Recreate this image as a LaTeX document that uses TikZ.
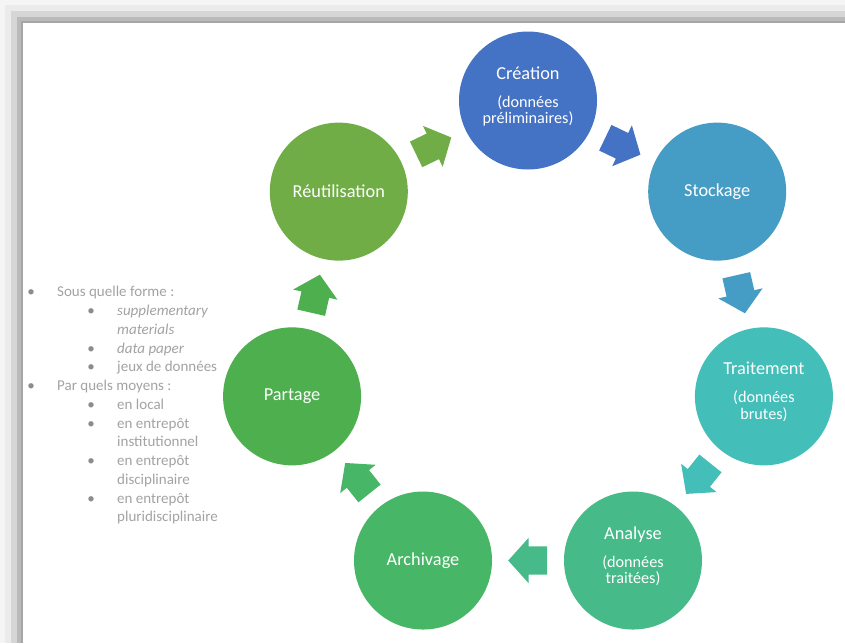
\documentclass[tikz,border=0pt]{standalone}
\usepackage{fontspec}
\setmainfont{Carlito}
\usepackage{xcolor}
\usetikzlibrary{calc, shapes.arrows}

\definecolor{creation}{HTML}{4472C4}
\definecolor{stockage}{HTML}{459CC5}
\definecolor{traitement}{HTML}{43BEB8}
\definecolor{analyse}{HTML}{46BA89}
\definecolor{archivage}{HTML}{48B667}
\definecolor{partage}{HTML}{4DAF4E}
\definecolor{reutil}{HTML}{70AD47}
\definecolor{gristexte}{HTML}{A3A3A3}
\definecolor{grispuce}{HTML}{8C8C8C}

\newcommand{\titre}[1]{{\fontsize{18.3}{16.5}\selectfont #1}}

\begin{document}
\begin{tikzpicture}[
        x = 1pt, y = -1pt, % pixel coordinates, y downwards
        etape/.style = {circle, minimum size=138pt, inner sep=0pt, text=white,
            font=\fontsize{16.2}{16.5}\selectfont, align=center},
        trois/.style = {text depth=11pt}, % three lines: lift the text a bit
        une/.style = {},
        fleche/.style = {single arrow, inner xsep=0pt, inner ysep=14pt,
            minimum height=39pt, single arrow head extend=8.5pt,
            single arrow tip angle=96, sloped, allow upside down,
            anchor=tail, pos=0.229}, % centred between the two circles
        liste/.style = {anchor=base west, text=gristexte, inner sep=0pt,
            font=\fontsize{15}{18}\selectfont},
        puce/.style = {anchor=base, text=grispuce, inner sep=0pt,
            font=\fontsize{15}{18}\selectfont},
    ]
        \useasboundingbox (0,0) rectangle (845,643);

        % Shadow of the page
        \foreach \d/\g in {0/4, 5/8, 11/16, 17/27, 21/35} {
            \fill[black!\g] (\d,\d) rectangle (845,643);
        }
        \fill[white] (22.5,22.5) rectangle (845,643);

        % Draw the cycle
        \coordinate (centre) at (528,342.5);
        \foreach \k/\name/\col/\sty/\txt in {
            0/crea/creation/trois/{\titre{Création}\\[11.5pt](données\\préliminaires)},
            1/stock/stockage/une/{\titre{Stockage}},
            2/trait/traitement/trois/{\titre{Traitement}\\[11.5pt](données\\brutes)},
            3/anal/analyse/trois/{\titre{Analyse}\\[11.5pt](données\\traitées)},
            4/arch/archivage/une/{\titre{Archivage}},
            5/part/partage/une/{\titre{Partage}},
            6/reut/reutil/une/{\titre{Réutilisation}}} {
            \node[etape, \sty, fill=\col] (\name) at ($(centre)+({360/7*\k-90}:242)$) {\txt};
        }

        % Draw the arrows
        \foreach \a/\b/\col in {
            crea/stock/creation,
            stock/trait/stockage,
            trait/anal/traitement,
            anal/arch/analyse,
            arch/part/archivage,
            part/reut/partage,
            reut/crea/reutil} {
            \path (\a) -- node[fleche, fill=\col] (f-\a) {} (\b);
        }

        % Bulleted list
        \foreach \i/\x/\txt in {
            1/57/Sous quelle forme :,
            2/117/\textit{supplementary},
            3/117/\textit{materials},
            4/117/\textit{data paper},
            5/117/jeux de données,
            6/57/Par quels moyens :,
            7/117/en local,
            8/117/en entrepôt,
            9/117/institutionnel,
            10/117/en entrepôt,
            11/117/disciplinaire,
            12/117/en entrepôt,
            13/117/pluridisciplinaire} {
            \node[liste] (l\i) at (\x,{278+18.75*\i}) {\txt};
        }
        \foreach \i/\x in {1/31, 2/91, 4/91, 5/91, 6/31, 7/91, 8/91, 10/91, 12/91} {
            \node[puce] (p\i) at (\x,{278+18.75*\i}) {•};
        }
    \end{tikzpicture}
\end{document}
